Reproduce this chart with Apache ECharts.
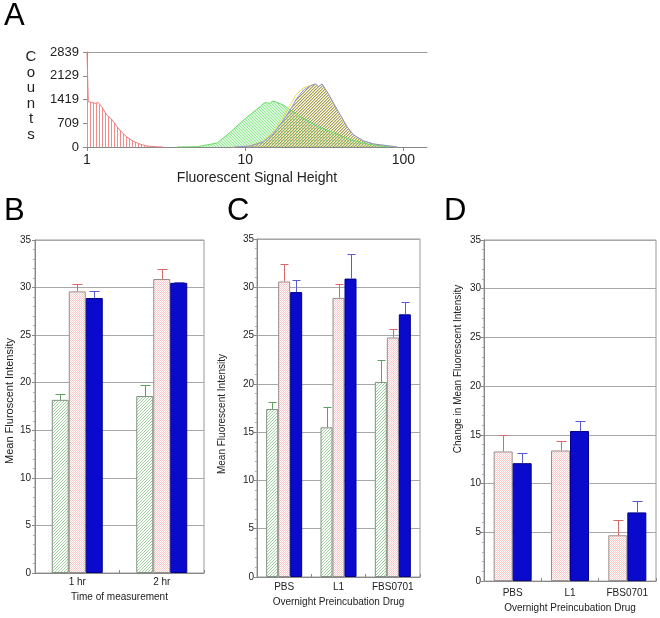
<!DOCTYPE html>
<html><head><meta charset="utf-8">
<script src="https://cdn.jsdelivr.net/npm/echarts@6/dist/echarts.min.js"></script>
<style>html,body{margin:0;padding:0;background:#fff}#c{width:660px;height:618px}</style>
</head><body><div id="c"></div>
<script>
// ---------- Panel A: histogram (Fluorescent Signal Height, Counts) ----------
const histRed = [[1.0,2839],[1.019,1355],[1.124,1306],[1.179,1325],[1.239,1205],[1.332,957],[1.433,830],[1.541,620],[1.658,440],[1.784,300],[1.963,170],[2.165,85],[2.387,30],[2.76,5],[3.02,0]];
const histGreen = [[3.71,0],[5.0,10],[6.65,120],[8.04,440],[10.3,900],[12.4,1200],[13.1,1310],[13.8,1325],[14.3,1300],[14.8,1370],[15.5,1350],[17.4,1255],[20.1,1050],[22.3,906],[28.6,620],[36.1,430],[46.2,220],[59.2,90],[74.7,20],[91.6,0]];
const histYellow = [[8.3,0],[10.6,30],[12.9,170],[14.9,430],[17.2,850],[19.5,1300],[20.9,1550],[23.2,1760],[25.8,1840],[27.7,1884],[29.1,1804],[30.6,1884],[32.9,1654],[36.2,1306],[39.9,957],[44.0,607],[48.4,359],[56.1,179],[64.9,90],[78.8,40],[91.2,0]];
const histBlue = [[8.5,0],[10.8,30],[13.1,160],[15.1,409],[17.5,807],[19.8,1205],[21.2,1455],[23.4,1704],[25.8,1824],[27.7,1884],[29.1,1804],[30.6,1884],[32.9,1654],[36.2,1306],[39.9,957],[44.0,607],[48.4,359],[56.1,179],[64.9,90],[78.8,40],[91.2,0]];
const ticksAx = [1, 10, 100];
const ticksAy = [0, 709, 1419, 2129, 2839];

// ---------- Panel B ----------
const catsB = ['1 hr', '2 hr'];
const bGreen = [18.2, 18.6],  bGreenTop = [18.8, 19.8];
const bPink  = [29.6, 30.9],  bPinkTop  = [30.4, 32.0];
const bBlue  = [28.9, 30.5],  bBlueTop  = [29.6, 30.6];

// ---------- Panel C ----------
const catsC = ['PBS', 'L1', 'FBS0701'];
const cGreen = [17.4, 15.5, 20.2], cGreenTop = [18.1, 17.6, 22.5];
const cPink  = [30.6, 28.9, 24.8], cPinkTop  = [32.4, 30.3, 25.7];
const cBlue  = [29.5, 30.9, 27.2], cBlueTop  = [30.8, 33.4, 28.5];

// ---------- Panel D ----------
const catsD = ['PBS', 'L1', 'FBS0701'];
const dPink = [13.3, 13.4, 4.7],  dPinkTop = [15.0, 14.4, 6.25];
const dBlue = [12.1, 15.4, 7.05], dBlueTop = [13.1, 16.4, 8.2];

// ---------- patterns ----------
function pat(w, h, draw) {
  const c = document.createElement('canvas'); c.width = w; c.height = h;
  const g = c.getContext('2d'); draw(g); return { image: c, repeat: 'repeat' };
}
const patBarGreen = pat(3, 3, g => { g.fillStyle = '#fff'; g.fillRect(0,0,3,3); g.fillStyle = '#9fd09f';
  g.fillRect(2,0,1,1); g.fillRect(1,1,1,1); g.fillRect(0,2,1,1); });
const patBarPink = pat(2, 2, g => { g.fillStyle = '#fff'; g.fillRect(0,0,2,2); g.fillStyle = '#f7caca';
  g.fillRect(0,0,1,1); g.fillRect(1,1,1,1); });
const patHistRed = pat(3, 1, g => { g.fillStyle = '#f48a8a'; g.fillRect(0,0,1,1); });
const patHistGreen = pat(3, 3, g => { g.fillStyle = '#dcf8dc'; g.fillRect(0,0,3,3); g.fillStyle = '#92e892'; g.fillRect(0,0,1,1); g.fillRect(1,1,1,1); g.fillRect(2,2,1,1); });
const patHistTan = pat(3, 3, g => { for (let i = 0; i < 3; i++) { g.fillStyle = '#a29c76'; g.fillRect(2 - i, i, 1, 1);
  g.fillStyle = '#ddd47c'; g.fillRect((3 - i) % 3, i, 1, 1); } });

const FONT = "'Liberation Sans', Arial, sans-serif";
const AXC = '#888';

function errSeries(xi, cats, vals, tops, offset, cap, color) {
  return {
    type: 'custom', xAxisIndex: xi, yAxisIndex: xi, z: 5, silent: true,
    data: cats.map((c, i) => [i, tops[i], vals[i]]),
    encode: { x: 0, y: 1 },
    renderItem: function (params, api) {
      const t = api.coord([api.value(0), api.value(1)]);
      const b = api.coord([api.value(0), api.value(2)]);
      const x = Math.round(t[0] + offset) + 0.5;
      const yt = Math.round(t[1]) + 0.5;
      return { type: 'group', children: [
        { type: 'line', shape: { x1: x, y1: b[1], x2: x, y2: yt }, style: { stroke: color, lineWidth: 1 } },
        { type: 'line', shape: { x1: x - cap, y1: yt, x2: x + cap, y2: yt }, style: { stroke: color, lineWidth: 1 } }
      ]};
    }
  };
}
function barSeries(xi, vals, fill, border, w) {
  return { type: 'bar', xAxisIndex: xi, yAxisIndex: xi, data: vals, barWidth: w, barGap: '0%',
    itemStyle: { color: fill, borderColor: border, borderWidth: 1 }, silent: true };
}
function catAxis(gi, cats, name, fs, margin, gap) {
  return { type: 'category', gridIndex: gi, data: cats,
    axisLine: { lineStyle: { color: AXC } },
    axisTick: { show: true, inside: true, length: 3, lineStyle: { color: AXC } },
    axisLabel: { color: '#222', fontSize: fs, fontFamily: FONT, margin: margin },
    name: name, nameLocation: 'middle', nameGap: gap,
    nameTextStyle: { color: '#222', fontSize: fs, fontFamily: FONT } };
}
function valAxis(gi, fs, margin) {
  return { type: 'value', gridIndex: gi, min: 0, max: 35, interval: 5,
    axisLine: { show: true, lineStyle: { color: AXC } },
    axisTick: { show: true, length: 3, lineStyle: { color: AXC } },
    minorTick: { show: true, splitNumber: 5, length: 2, lineStyle: { color: '#aaa' } },
    splitLine: { show: true, lineStyle: { color: '#a8a8a8', width: 1 } },
    axisLabel: { color: '#222', fontSize: fs, fontFamily: FONT, margin: margin } };
}

const chart = echarts.init(document.getElementById('c'), null, { renderer: 'canvas' });
chart.setOption({
  animation: false,
  backgroundColor: '#fff',
  grid: [
    { left: 87, top: 52, width: 340, height: 95 },
    { left: 35, top: 240, width: 169, height: 333, show: true, borderColor: '#999', borderWidth: 1 },
    { left: 257, top: 239, width: 163, height: 338, show: true, borderColor: '#999', borderWidth: 1 },
    { left: 484, top: 240, width: 172, height: 345, show: true, borderColor: '#999', borderWidth: 1 }
  ],
  xAxis: [
    { type: 'log', logBase: 10, gridIndex: 0, min: 1, max: 141,
      axisLine: { lineStyle: { color: AXC } },
      axisTick: { show: true, length: 4, customValues: ticksAx, lineStyle: { color: AXC } },
      axisLabel: { customValues: ticksAx, color: '#222', fontSize: 14, fontFamily: FONT, margin: 6, formatter: v => String(v) },
      splitLine: { show: false },
      name: 'Fluorescent Signal Height', nameLocation: 'middle', nameGap: 24,
      nameTextStyle: { color: '#222', fontSize: 14, fontFamily: FONT } },
    catAxis(1, catsB, 'Time of measurement', 10, 4, 16),
    catAxis(2, catsC, 'Overnight Preincubation Drug', 10, 5, 16),
    catAxis(3, catsD, 'Overnight Preincubation Drug', 10, 7, 19),
    { type: 'log', logBase: 10, gridIndex: 0, min: 1, max: 141, position: 'top',
      axisLine: { lineStyle: { color: '#999' } }, axisTick: { show: false }, axisLabel: { show: false }, splitLine: { show: false } }
  ],
  yAxis: [
    { type: 'value', gridIndex: 0, min: 0, max: 2839,
      axisLine: { show: true, lineStyle: { color: AXC } },
      axisTick: { show: true, length: 4, customValues: ticksAy, lineStyle: { color: AXC } },
      axisLabel: { customValues: ticksAy, color: '#222', fontSize: 13, fontFamily: FONT, margin: 8, formatter: v => String(v) },
      splitLine: { show: false } },
    valAxis(1, 10, 4),
    valAxis(2, 10, 3),
    valAxis(3, 10, 3)
  ],
  graphic: [
    { type: 'text', left: 4, top: 1, style: { text: 'A', fontSize: 31, fontFamily: FONT, fill: '#000' } },
    { type: 'text', left: 4, top: 196, style: { text: 'B', fontSize: 31, fontFamily: FONT, fill: '#000' } },
    { type: 'text', left: 227, top: 196, style: { text: 'C', fontSize: 31, fontFamily: FONT, fill: '#000' } },
    { type: 'text', left: 444, top: 196, style: { text: 'D', fontSize: 31, fontFamily: FONT, fill: '#000' } },
    { type: 'text', x: 31, y: 96, style: { text: 'C\no\nu\nn\nt\ns', fontSize: 15, lineHeight: 15.5, fontFamily: FONT, fill: '#222', align: 'center', verticalAlign: 'middle' } },
    { type: 'text', x: 10, y: 401, rotation: Math.PI / 2, style: { text: 'Mean Fluroscent Intensity', fontSize: 11, fontFamily: FONT, fill: '#222', align: 'center', verticalAlign: 'middle' } },
    { type: 'text', x: 222, y: 414, rotation: Math.PI / 2, style: { text: 'Mean Fluorescent Intensity', fontSize: 10, fontFamily: FONT, fill: '#222', align: 'center', verticalAlign: 'middle' } },
    { type: 'text', x: 458, y: 369, rotation: Math.PI / 2, style: { text: 'Change in Mean Fluorescent Intensity', fontSize: 10, fontFamily: FONT, fill: '#222', align: 'center', verticalAlign: 'middle' } }
  ],
  series: [
    { type: 'line', xAxisIndex: 0, yAxisIndex: 0, data: histRed, showSymbol: false, silent: true,
      lineStyle: { color: '#f07a7a', width: 1 }, areaStyle: { color: patHistRed, opacity: 1 } },
    { type: 'line', xAxisIndex: 0, yAxisIndex: 0, data: histGreen, showSymbol: false, silent: true,
      lineStyle: { color: '#66dd66', width: 1 }, areaStyle: { color: patHistGreen, opacity: 1 } },
    { type: 'line', xAxisIndex: 0, yAxisIndex: 0, data: histYellow, showSymbol: false, silent: true,
      lineStyle: { color: '#e6e040', width: 1 } },
    { type: 'line', xAxisIndex: 0, yAxisIndex: 0, data: histBlue, showSymbol: false, silent: true,
      lineStyle: { color: '#8c8ce6', width: 1 }, areaStyle: { color: patHistTan, opacity: 1 } },

    barSeries(1, bGreen, patBarGreen, '#7f937f', 17),
    barSeries(1, bPink, patBarPink, '#9a8c8c', 17),
    barSeries(1, bBlue, '#0a0acc', '#000088', 17),
    errSeries(1, catsB, bGreen, bGreenTop, -17, 5, '#5f9f5f'),
    errSeries(1, catsB, bPink, bPinkTop, 0, 5, '#d86a6a'),
    errSeries(1, catsB, bBlue, bBlueTop, 17, 5, '#5a5ad8'),

    barSeries(2, cGreen, patBarGreen, '#7f937f', 12),
    barSeries(2, cPink, patBarPink, '#9a8c8c', 12),
    barSeries(2, cBlue, '#0a0acc', '#000088', 12),
    errSeries(2, catsC, cGreen, cGreenTop, -12, 4, '#5f9f5f'),
    errSeries(2, catsC, cPink, cPinkTop, 0, 4, '#d86a6a'),
    errSeries(2, catsC, cBlue, cBlueTop, 12, 4, '#5a5ad8'),

    barSeries(3, dPink, patBarPink, '#9a8c8c', 19),
    barSeries(3, dBlue, '#0a0acc', '#000088', 19),
    errSeries(3, catsD, dPink, dPinkTop, -9.5, 5, '#d86a6a'),
    errSeries(3, catsD, dBlue, dBlueTop, 9.5, 5, '#5a5ad8')
  ]
});
</script>
</body></html>
